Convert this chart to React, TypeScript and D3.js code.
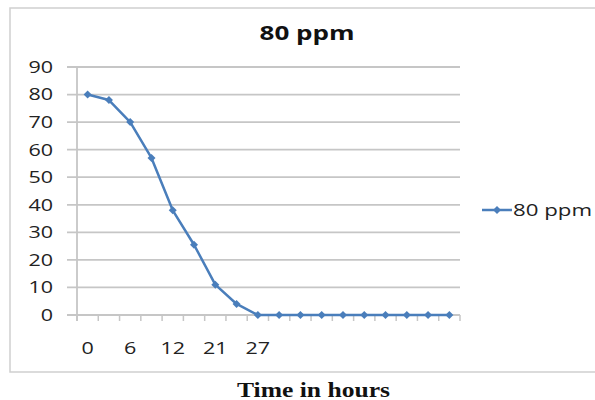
import React from "react";
import * as d3 from "d3";

const categories = ["0", "3", "6", "9", "12", "15", "21", "24", "27", "", "", "", "", "", "", "", "", ""];
const values = [80, 78, 70, 57, 38, 25.5, 11, 4, 0, 0, 0, 0, 0, 0, 0, 0, 0, 0];
const yTicks = [0, 10, 20, 30, 40, 50, 60, 70, 80, 90];
const seriesName = "80 ppm";
const title = "80 ppm";
const xTitle = "Time in hours";

const W = 595, H = 400;
const plot = { left: 77, right: 460, top: 67, bottom: 315 };
const COLOR = "#4A7EBB";
const GRID = "#c6c6c6";
const FONT = "'Open Sans', 'Liberation Sans', Arial, sans-serif";
const DIGIT_W = 12.3;

export default function App() {
  const x = d3.scaleBand<number>().domain(d3.range(categories.length)).range([plot.left, plot.right]);
  const y = d3.scaleLinear().domain([0, 90]).range([plot.bottom, plot.top]);
  const line = d3.line<number>().x((_, i) => x(i)! + x.bandwidth() / 2).y((d) => y(d));
  const diamond = d3.symbol().type(d3.symbolSquare).size(32)();
  const boundaries = d3.range(categories.length + 1).map((i) => plot.left + i * x.step());

  return (
    <svg width={W} height={H} style={{ position: "absolute", left: 0, top: 0, background: "#fff" }}>
      <rect x={10} y={8} width={600} height={364} fill="#fff" stroke="#cfcfcf" strokeWidth={1.5} />
      <text x={307} y={40} textAnchor="middle" fontFamily={FONT} fontWeight="bold" fontSize={19} fill="#111"
        textLength={95} lengthAdjust="spacingAndGlyphs">{title}</text>
      {yTicks.map((t) => (
        <g key={t}>
          <line x1={plot.left - 10} x2={plot.right} y1={y(t)} y2={y(t)} stroke={GRID} strokeWidth={1.8} />
          <text x={53} y={y(t)} dy="0.36em" textAnchor="end" fontFamily={FONT} fontSize={16.5} fill="#222"
            textLength={String(t).length * DIGIT_W} lengthAdjust="spacingAndGlyphs">{t}</text>
        </g>
      ))}
      <line x1={plot.left} x2={plot.left} y1={plot.top} y2={plot.bottom + 6} stroke={GRID} strokeWidth={1.8} />
      {boundaries.map((b, i) => (
        <line key={i} x1={b} x2={b} y1={plot.bottom} y2={plot.bottom + 6} stroke={GRID} strokeWidth={1.5} />
      ))}
      {categories.map((c, i) => (i % 2 === 0 && c ? (
        <text key={i} x={x(i)! + x.bandwidth() / 2} y={plot.bottom + 33} dy="0.36em" textAnchor="middle" fontFamily={FONT} fontSize={16.5} fill="#222"
          textLength={c.length * DIGIT_W} lengthAdjust="spacingAndGlyphs">{c}</text>
      ) : null))}
      <path d={line(values)!} fill="none" stroke={COLOR} strokeWidth={2.5} strokeLinejoin="round" />
      {values.map((v, i) => (
        <path key={i} d={diamond} transform={`translate(${x(i)! + x.bandwidth() / 2},${y(v)}) rotate(45)`} fill={COLOR} />
      ))}
      <line x1={482} x2={512} y1={210} y2={210} stroke={COLOR} strokeWidth={2.5} />
      <path d={diamond} transform="translate(497,210) rotate(45)" fill={COLOR} />
      <text x={513} y={210} dy="0.36em" fontFamily={FONT} fontSize={16} fill="#222"
        textLength={79} lengthAdjust="spacingAndGlyphs">{seriesName}</text>
      <text x={313.5} y={397} textAnchor="middle" fontFamily="'Liberation Serif', 'Times New Roman', serif" fontWeight="bold" fontSize={20} fill="#111"
        textLength={153} lengthAdjust="spacingAndGlyphs">{xTitle}</text>
    </svg>
  );
}
